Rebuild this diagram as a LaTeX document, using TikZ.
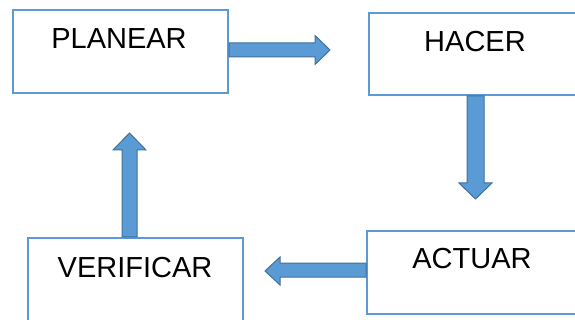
\documentclass[tikz,border=0pt]{standalone}
\usepackage{fontspec}
\setmainfont{Liberation Sans}
\definecolor{boxline}{HTML}{5B9BD5}
\definecolor{arrowfill}{HTML}{5B9BD5}
\definecolor{arrowline}{HTML}{41719C}
\begin{document}
\begin{tikzpicture}[x=1pt,y=-1pt,
  stagebox/.style={draw=boxline, line width=2pt, fill=white, inner sep=0pt, anchor=north west},
  stagetext/.style={anchor=base, inner sep=0pt, font=\fontsize{29}{34}\selectfont},
  blockarrow/.style={fill=arrowfill, draw=arrowline, line width=1pt, line join=miter}]
\useasboundingbox (0,0) rectangle (575,320);
\clip (0,0) rectangle (575,320);
% stage boxes
\node[stagebox, minimum width=215pt, minimum height=83pt] (plan) at (12,9) {};
\node[stagebox, minimum width=212pt, minimum height=82pt] (hacer) at (368,12) {};
\node[stagebox, minimum width=215pt, minimum height=90pt] (verif) at (27,237) {};
\node[stagebox, minimum width=212pt, minimum height=83pt] (actuar) at (366,230) {};
% stage names
\node[stagetext] (tplan) at (119,49) {PLANEAR};
\node[stagetext] (thacer) at (475,52) {HACER};
\node[stagetext] (tverif) at (135,277) {VERIFICAR};
\node[stagetext] (tactuar) at (472,269) {ACTUAR};
% block arrows between the stages
\draw[blockarrow] (plan.east |- 0,43) -- (315,43) -- (315,35.5) -- (330,50)
  -- (315,64.5) -- (315,57) -- (plan.east |- 0,57) -- cycle;
\draw[blockarrow] (467,0 |- hacer.south) -- (467,183) -- (459,183) -- (475.5,199)
  -- (492,183) -- (484,183) -- (484,0 |- hacer.south) -- cycle;
\draw[blockarrow] (actuar.west |- 0,263) -- (280,263) -- (280,257) -- (265,271)
  -- (280,285) -- (280,277) -- (actuar.west |- 0,277) -- cycle;
\draw[blockarrow] (122,0 |- verif.north) -- (122,150) -- (113,150) -- (129.5,133)
  -- (146,150) -- (137,150) -- (137,0 |- verif.north) -- cycle;
\end{tikzpicture}
\end{document}
